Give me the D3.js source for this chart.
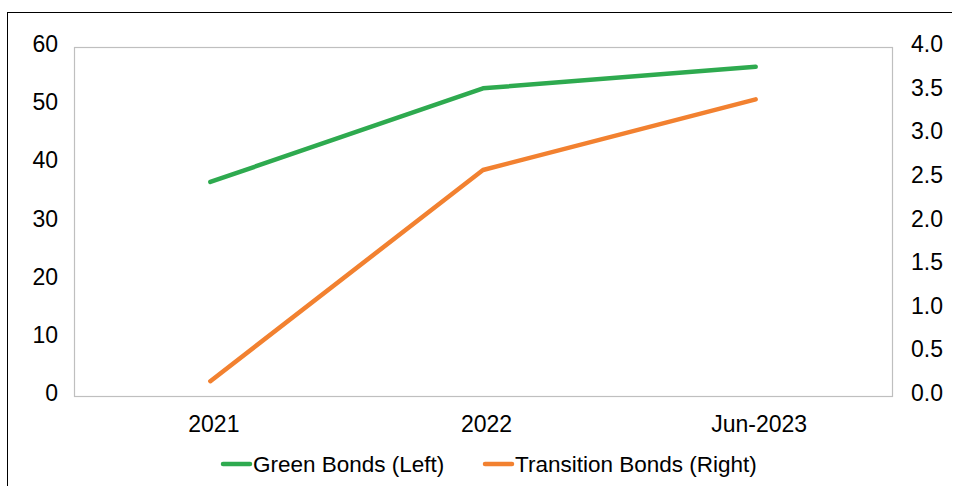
<!DOCTYPE html>
<html><head><meta charset="utf-8">
<script src="https://cdn.jsdelivr.net/npm/d3@7"></script>
<style>body{margin:0;background:#fff}svg{display:block}text{font-family:"Liberation Sans",Arial,sans-serif;fill:#000}</style>
</head><body>
<script>
const categories = ["2021", "2022", "Jun-2023"];
const greenBonds = [36.8, 52.9, 56.6];
const transitionBonds = [0.17, 2.59, 3.40];
const leftTicks = [0, 10, 20, 30, 40, 50, 60];
const rightTicks = [0, 0.5, 1.0, 1.5, 2.0, 2.5, 3.0, 3.5, 4.0];
const seriesNames = ["Green Bonds (Left)", "Transition Bonds (Right)"];
const colors = ["#2EAA4F", "#F28130"];

const W = 956, H = 486;
const m = {l: 74, r: 64, t: 47, b: 90};
const svg = d3.select("body").append("svg").attr("width", W).attr("height", H);

// outer frame
svg.append("line").attr("x1", 7.5).attr("x2", 7.5).attr("y1", 12).attr("y2", H).attr("stroke", "#000").attr("stroke-width", 1);
svg.append("line").attr("x1", 7).attr("x2", 952).attr("y1", 12.5).attr("y2", 12.5).attr("stroke", "#000").attr("stroke-width", 1);

const x = d3.scalePoint().domain(categories).range([m.l, W - m.r]).padding(0.5);
const yL = d3.scaleLinear().domain([0, 60]).range([H - m.b, m.t]);
const yR = d3.scaleLinear().domain([0, 4]).range([H - m.b, m.t]);

svg.append("rect").attr("x", m.l + 0.5).attr("y", m.t + 0.5)
  .attr("width", W - m.r - m.l).attr("height", H - m.b - m.t)
  .attr("fill", "none").attr("stroke", "#BFBFBF").attr("stroke-width", 1.2);

const FS = 23;
const axL = svg.append("g").attr("transform", `translate(${m.l},0)`)
  .call(d3.axisLeft(yL).tickValues(leftTicks).tickSize(0).tickPadding(16).tickFormat(d3.format("d")));
const axR = svg.append("g").attr("transform", `translate(${W - m.r},0)`)
  .call(d3.axisRight(yR).tickValues(rightTicks).tickSize(0).tickPadding(19).tickFormat(d3.format(".1f")));
const axB = svg.append("g").attr("transform", `translate(0,${H - m.b})`)
  .call(d3.axisBottom(x).tickSize(0).tickPadding(20));
[axL, axR, axB].forEach(a => {
  a.select(".domain").remove();
  a.selectAll("text").attr("font-size", FS).attr("font-family", "Liberation Sans, Arial, sans-serif").attr("fill", "#000");
});
axL.selectAll("text").attr("dy", "0.2em");
axR.selectAll("text").attr("dy", "0.2em");
axB.selectAll("text").attr("dx", 3);

const line = (yScale) => d3.line().x((d, i) => x(categories[i])).y(d => yScale(d));
svg.append("path").datum(greenBonds).attr("d", line(yL)).attr("fill", "none")
  .attr("stroke", colors[0]).attr("stroke-width", 4.5).attr("stroke-linecap", "round").attr("stroke-linejoin", "round");
svg.append("path").datum(transitionBonds).attr("d", line(yR)).attr("fill", "none")
  .attr("stroke", colors[1]).attr("stroke-width", 4.5).attr("stroke-linecap", "round").attr("stroke-linejoin", "round");

// legend
const legX = [223, 485], legY = 464;
seriesNames.forEach((n, i) => {
  const g = svg.append("g").attr("transform", `translate(${legX[i]},${legY})`);
  g.append("line").attr("x1", 0).attr("x2", 27).attr("y1", 0).attr("y2", 0)
    .attr("stroke", colors[i]).attr("stroke-width", 4.5).attr("stroke-linecap", "round");
  g.append("text").attr("x", 30).attr("y", 0).attr("dy", "0.35em").attr("font-size", 22.5).text(n);
});
</script>
</body></html>
